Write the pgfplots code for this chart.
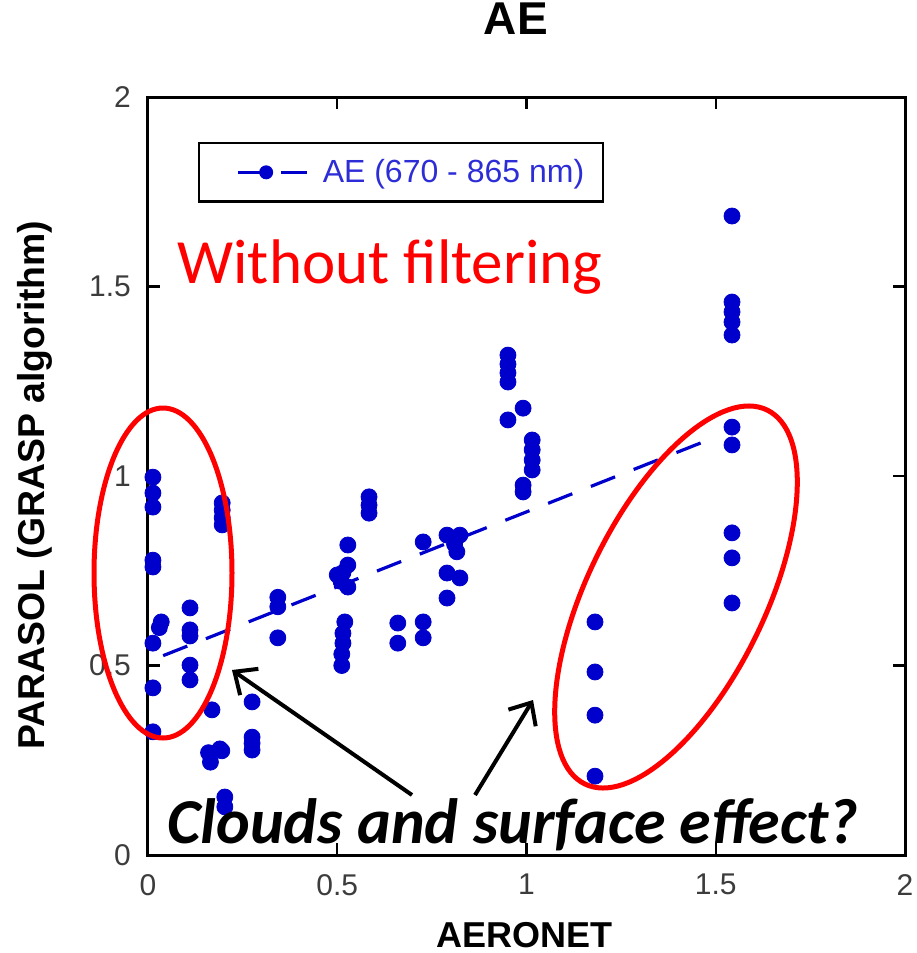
\documentclass[border=0pt]{standalone}
\usepackage{fontspec}
\setmainfont{Liberation Sans}
\newfontfamily\carlito{Carlito}
\usepackage{pgfplots}
\pgfplotsset{compat=1.18}
\usetikzlibrary{arrows.meta}
\definecolor{markblue}{RGB}{0,0,205}
\definecolor{legblue}{RGB}{45,45,215}
\definecolor{ticklab}{RGB}{60,60,60}

\begin{document}
\begin{tikzpicture}
\path[use as bounding box] (0,0) rectangle (458pt,-476.5pt);
\begin{axis}[
  at={(74pt,-427.5pt)}, anchor=south west,
  scale only axis, width=378.5pt, height=379pt,
  xmin=0, xmax=2, ymin=0, ymax=2,
  xtick={0,0.5,1,1.5,2}, ytick={0,0.5,1,1.5,2},
  tick align=inside, major tick length=6pt,
  axis line style={line width=1.5pt},
  every tick/.style={black, line width=1.2pt},
  tick label style={font=\fontsize{15}{18}\selectfont, text=ticklab},
  yticklabel style={xshift=-5pt},
  xticklabel style={yshift=-6pt},
  /pgf/number format/assume math mode=true,
  title={AE},
  title style={font=\bfseries\fontsize{23}{28}\selectfont, at={(axis description cs:0.486,1.087)}, anchor=center},
  xlabel={AERONET},
  xlabel style={font=\bfseries\fontsize{18}{21}\selectfont, at={(axis description cs:0.497,-0.106)}, anchor=center},
  ylabel={PARASOL (GRASP algorithm)},
  ylabel style={font=\bfseries\fontsize{18.7}{22}\selectfont, at={(axis description cs:-0.149,0.488)}, anchor=center},
  legend style={at={(axis description cs:0.066,0.9406)}, anchor=north west, draw=black, line width=1.2pt,
    inner xsep=9.5pt, inner ysep=8pt, font=\fontsize{16}{19}\selectfont, text=legblue,
    nodes={inner sep=0pt}, /tikz/every odd column/.append style={column sep=7pt}},
]
\addlegendimage{legend image code/.code={
  \path[draw=none] (-10pt,0) -- (34.5pt,0);
  \draw[markblue, line width=1.6pt] (0pt,0) -- (14pt,0);
  \draw[markblue, line width=1.6pt] (21.5pt,0) -- (34.5pt,0);
  \fill[markblue, draw=none] (14pt,0) circle (3.5pt);
}}
\addlegendentry{AE (670 - 865 nm)}

\addplot[forget plot, only marks, mark=*, mark size=4pt, color=markblue, mark options={draw=none, fill=markblue}] coordinates {
 (0.013,0.997)(0.013,0.955)(0.013,0.918)(0.013,0.778)(0.013,0.760)(0.035,0.615)(0.03,0.60)(0.013,0.559)(0.013,0.441)(0.013,0.325)
 (0.111,0.652)(0.111,0.594)(0.111,0.578)(0.111,0.501)(0.111,0.462)
 (0.196,0.929)(0.196,0.91)(0.196,0.89)(0.196,0.871)
 (0.169,0.383)(0.16,0.27)(0.19,0.28)(0.165,0.245)(0.195,0.275)(0.203,0.153)(0.203,0.127)
 (0.275,0.404)(0.275,0.311)(0.275,0.295)(0.275,0.277)
 (0.343,0.68)(0.343,0.655)(0.343,0.573)
 (0.528,0.818)(0.528,0.765)(0.50,0.739)(0.515,0.745)(0.51,0.722)(0.528,0.707)(0.52,0.615)(0.515,0.585)(0.515,0.559)(0.512,0.53)(0.512,0.50)
 (0.584,0.945)(0.584,0.923)(0.584,0.902)
 (0.66,0.612)(0.66,0.559)(0.727,0.615)(0.727,0.573)(0.727,0.826)
 (0.79,0.844)(0.824,0.844)(0.81,0.82)(0.816,0.80)(0.79,0.744)(0.824,0.731)(0.79,0.678)
 (0.951,1.319)(0.951,1.295)(0.951,1.272)(0.951,1.248)(0.951,1.148)
 (0.991,1.179)(0.991,0.976)(0.991,0.958)(1.015,1.095)(1.015,1.069)(1.015,1.042)(1.015,1.016)
 (1.181,0.615)(1.181,0.483)(1.181,0.369)(1.181,0.208)
 (1.543,1.686)(1.543,1.459)(1.543,1.433)(1.543,1.406)(1.543,1.372)(1.543,1.129)(1.543,1.082)(1.543,0.85)(1.543,0.784)(1.543,0.665)
};
\addplot[forget plot, no marks, markblue, line width=1.6pt, dash pattern=on 13pt off 10pt] coordinates {(0.04,0.526) (1.48,1.095)};
\end{axis}

% annotations
\draw[red, line width=2.5pt] (81.5pt,-286.5pt) ellipse [x radius=34.5pt, y radius=82.5pt];
\draw[red, line width=2.5pt, rotate around={64:(338pt,-298.5pt)}] (338pt,-298.5pt) ellipse [x radius=104pt, y radius=44.5pt];
\draw[black, line width=2pt, -{Straight Barb[length=9pt, width=16pt]}] (206pt,-397.5pt) -- (116pt,-335pt);
\draw[black, line width=2pt, -{Straight Barb[length=9pt, width=16pt]}] (237.5pt,-397.5pt) -- (266.5pt,-350pt);
\node[anchor=base west, inner sep=0pt, text=red, font=\carlito\fontsize{31.5}{36}\selectfont] at (88.5pt,-141.5pt) {Without filtering};
\node[anchor=base, inner sep=0pt, text=black, font=\carlito\bfseries\itshape\fontsize{32}{38}\selectfont] at (256.5pt,-421.5pt) {Clouds and surface effect?};
\end{tikzpicture}
\end{document}
